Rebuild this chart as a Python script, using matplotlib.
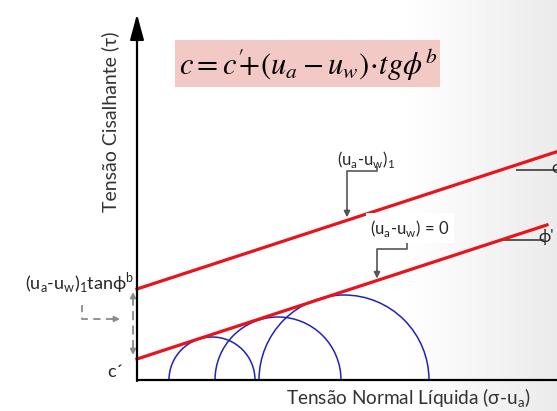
import numpy as np
import matplotlib.pyplot as plt
from matplotlib.patches import Arc, Rectangle

# envelope parameters (drawing units)
c_prime = 21          # effective cohesion intercept
tan_phi = 0.327       # slope tan(phi')
suction_term = 70     # (ua-uw)1 * tan(phi_b)
line_end_zero = 410   # x end of the (ua-uw)=0 envelope
line_end_one = 425    # x end of the (ua-uw)1 envelope

# Mohr circles at (ua-uw)=0
circle_centers = [75, 141, 207]
circle_radii = [43, 63, 85]

red = '#e8131b'
blue = '#2222b8'
gray = '#555555'
lgray = '#8a8a8a'
txt = '#262626'

plt.rcParams['font.family'] = ['Lato', 'DejaVu Sans']

fig = plt.figure(figsize=(5.57, 4.11), dpi=100)
ax = fig.add_axes([0, 0, 1, 1])
ax.set_xlim(-137, 420)
ax.set_ylim(-31, 380)
ax.axis('off')

# faint grey shading towards the right edge
xs = np.arange(557)
grad = np.tile(np.clip(1 - (xs - 400) / 157 * 0.08, 0.92, 1.0), (2, 1))
ax.imshow(grad, extent=(-137, 420, -31, 380), cmap='gray', vmin=0, vmax=1,
          aspect='auto', zorder=0)

# axes
ax.annotate('', xy=(0, 366), xytext=(0, -1),
            arrowprops=dict(arrowstyle='-|>,head_length=1.3,head_width=0.35',
                            lw=1.6, color='black', mutation_scale=12,
                            shrinkA=0, shrinkB=0), zorder=5)
ax.plot([0, 420], [0, 0], color='black', lw=1.6, zorder=5,
        solid_capstyle='butt')

# envelopes
x0 = np.array([0, line_end_zero])
x1 = np.array([0, line_end_one])
ax.plot(x0, c_prime + tan_phi * x0, color=red, lw=2.3, zorder=3)
ax.plot(x1, c_prime + suction_term + tan_phi * x1, color=red, lw=2.3, zorder=3)

# Mohr circles
for xc, r in zip(circle_centers, circle_radii):
    ax.add_patch(Arc((xc, 0), 2 * r, 2 * r, theta1=0, theta2=180,
                     color=blue, lw=1.1, zorder=2))

# equation box
ax.add_patch(Rectangle((38, 293), 265, 47, facecolor='#f3c9c5',
                       edgecolor='none', zorder=1))
ax.text(171, 315, r"$c=c^{\prime}\!\!\!+\!\left(u_a-u_w\right)\!\cdot\! tg\phi^b$",
        math_fontfamily='stix', fontsize=22, ha='center', va='center',
        zorder=4)

# axis titles
ax.text(-27, 258, 'Tensão Cisalhante (τ)', rotation=90, fontsize=14,
        color='#333333', ha='center', va='center')
ax.text(271, -18, r'Tensão Normal Líquida (σ-u$_\mathregular{a}$)',
        fontsize=13.7, color='#333333', ha='center', va='center')

# labels on the envelopes
ax.text(229, 220, r'(u$_\mathregular{a}$-u$_\mathregular{w}$)$_\mathregular{1}$',
        fontsize=12, color=txt, ha='center', va='center')
ax.text(273, 152, r'(u$_\mathregular{a}$-u$_\mathregular{w}$) = 0',
        fontsize=12, color=txt, ha='center', va='center', zorder=4,
        bbox=dict(facecolor='white', edgecolor='none', pad=3))

y_tip1 = c_prime + suction_term + tan_phi * 210 + 3
ax.plot([240, 240, 210, 210], [213, 209, 209, y_tip1 + 6], color=gray, lw=1.2)
ax.annotate('', xy=(210, y_tip1), xytext=(210, y_tip1 + 8),
            arrowprops=dict(arrowstyle='-|>', color=gray, lw=1.2,
                            mutation_scale=9, shrinkA=0, shrinkB=0))
y_tip0 = c_prime + tan_phi * 240 + 2
ax.plot([270, 270, 240, 240], [137, 131, 131, y_tip0 + 6], color=gray, lw=1.2)
ax.annotate('', xy=(240, y_tip0), xytext=(240, y_tip0 + 8),
            arrowprops=dict(arrowstyle='-|>', color=gray, lw=1.2,
                            mutation_scale=9, shrinkA=0, shrinkB=0))

# friction angle marks
ax.plot([380, 420], [210, 210], color=gray, lw=1.4)
ax.text(414, 212, 'ϕ', fontsize=12, color=txt, ha='left', va='center')
ax.plot([366, 406], [140, 140], color=gray, lw=1.4)
ax.text(409, 143, "ϕ'", fontsize=12, color=txt, ha='center', va='center')

# left side annotations
ax.text(-3, 97, r'(u$_\mathregular{a}$-u$_\mathregular{w}$)$_\mathregular{1}$tanϕ$^\mathregular{b}$',
        fontsize=13, color=txt, ha='right', va='center')
ax.text(-22, 8, 'c´', fontsize=13, color=txt, ha='center', va='center')

ya, yb = c_prime + 4, c_prime + suction_term - 3
ax.plot([-4, -4], [ya + 6, yb - 6], color=lgray, lw=1.3, ls=(0, (5, 3)))
for tip, tail in ((yb, yb - 7), (ya, ya + 7)):
    ax.annotate('', xy=(-4, tip), xytext=(-4, tail),
                arrowprops=dict(arrowstyle='-|>', color=lgray, lw=1.3,
                                mutation_scale=8, shrinkA=0, shrinkB=0))
ax.plot([-55, -55, -24], [75, 61, 61], color=lgray, lw=1.3, ls=(0, (4, 3)))
ax.annotate('', xy=(-17, 61), xytext=(-25, 61),
            arrowprops=dict(arrowstyle='-|>', color=lgray, lw=1.3,
                            mutation_scale=8, shrinkA=0, shrinkB=0))

plt.savefig('out.png', dpi=100)
